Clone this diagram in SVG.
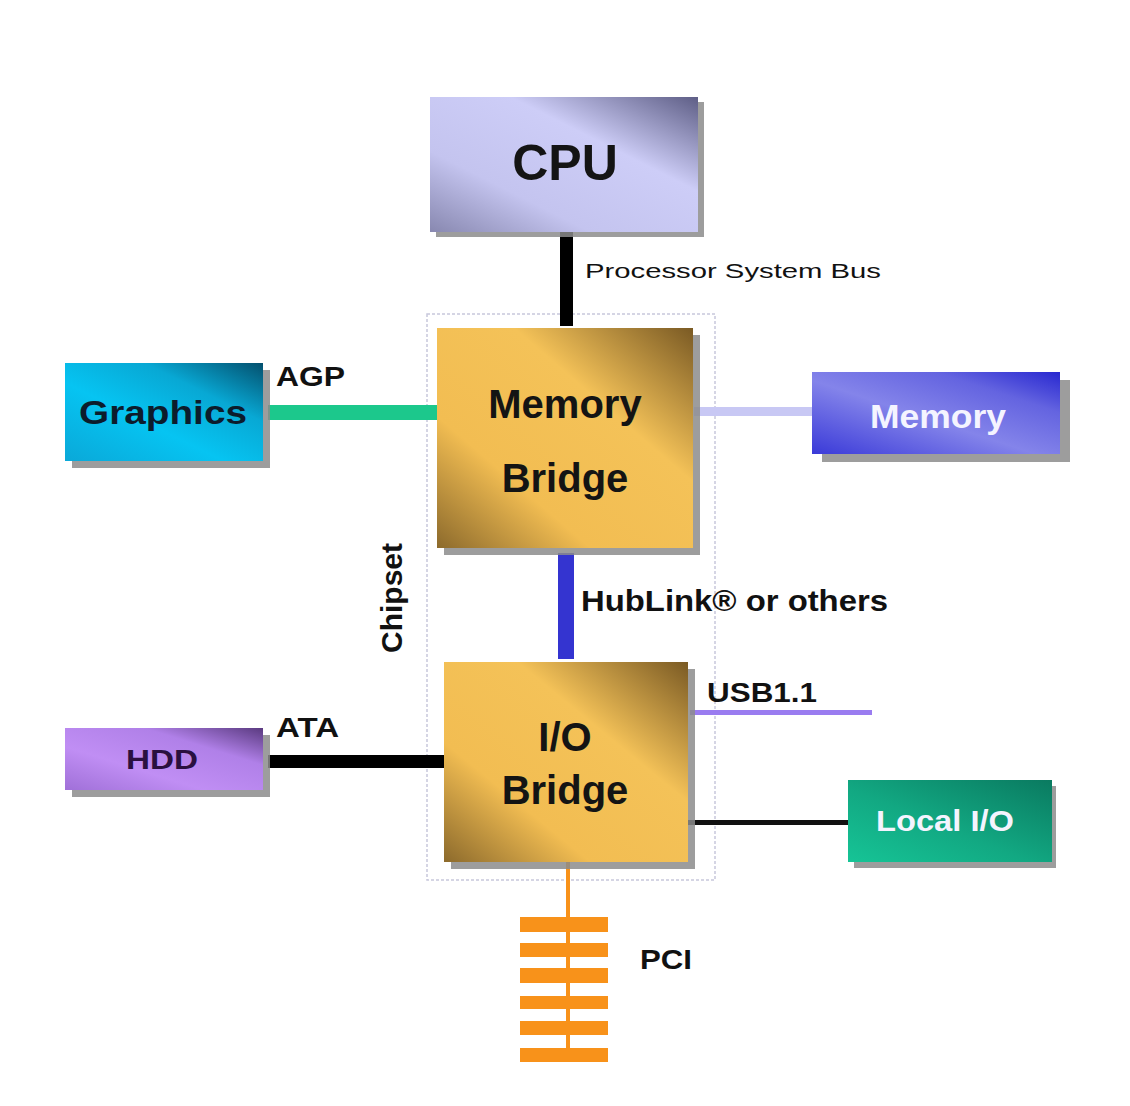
<svg xmlns="http://www.w3.org/2000/svg" width="1130" height="1106" viewBox="0 0 1130 1106">
<style>
.lbl{font-family:"Liberation Sans",Arial,sans-serif;font-weight:bold;fill:#111}
.big{font-family:"Liberation Sans",Arial,sans-serif;font-weight:bold;fill:#141414;text-anchor:middle}
.wht{font-family:"Liberation Sans",Arial,sans-serif;font-weight:bold;fill:#f4f4ff;text-anchor:middle}
.shadow{fill:#8c8c8c;opacity:0.85}
</style>
<defs>
<linearGradient id="gCpu" x1="0" y1="1" x2="1" y2="0">
<stop offset="0" stop-color="#8888b0"/><stop offset="0.3" stop-color="#c4c4ef"/><stop offset="0.65" stop-color="#cdcdf7"/><stop offset="1" stop-color="#5e5e86"/>
</linearGradient>
<linearGradient id="gGold" x1="0" y1="1" x2="1" y2="0">
<stop offset="0" stop-color="#8c6a2c"/><stop offset="0.3" stop-color="#f2bd52"/><stop offset="0.65" stop-color="#f4c258"/><stop offset="1" stop-color="#7a5a24"/>
</linearGradient>
<linearGradient id="gGfx" x1="0" y1="1" x2="1" y2="0">
<stop offset="0" stop-color="#0aa8d8"/><stop offset="0.4" stop-color="#06c4f2"/><stop offset="0.7" stop-color="#08a8d4"/><stop offset="1" stop-color="#04506e"/>
</linearGradient>
<linearGradient id="gMem" x1="0" y1="1" x2="1" y2="0">
<stop offset="0" stop-color="#3a3ad8"/><stop offset="0.45" stop-color="#8484ea"/><stop offset="0.75" stop-color="#6464e0"/><stop offset="1" stop-color="#2828d0"/>
</linearGradient>
<linearGradient id="gHdd" x1="0" y1="1" x2="1" y2="0">
<stop offset="0" stop-color="#a070d8"/><stop offset="0.35" stop-color="#c08ef4"/><stop offset="0.7" stop-color="#b080e8"/><stop offset="1" stop-color="#5a3a80"/>
</linearGradient>
<linearGradient id="gLio" x1="0" y1="1" x2="1" y2="0">
<stop offset="0" stop-color="#16c496"/><stop offset="0.45" stop-color="#12a882"/><stop offset="1" stop-color="#0a7a60"/>
</linearGradient>
</defs>
<rect width="1130" height="1106" fill="#ffffff"/>

<g id="chipset">
<rect x="427" y="314" width="288" height="566" fill="none" stroke="#c8c8dc" stroke-width="1.5" stroke-dasharray="3 2"/>
<text class="lbl" font-size="30" transform="translate(402,598) rotate(-90)" text-anchor="middle">Chipset</text>
</g>

<g id="connectors">
<rect x="560" y="232" width="13" height="94" fill="#000"/>
<rect x="268" y="405" width="170" height="15" fill="#1cc88c"/>
<rect x="694" y="407" width="120" height="9" fill="#c8c8f4"/>
<rect x="558" y="553" width="16" height="106" fill="#3434d0"/>
<rect x="690" y="710" width="182" height="5" fill="#9a7cf0"/>
<rect x="268" y="755" width="178" height="13" fill="#000"/>
<rect x="688" y="820" width="162" height="5" fill="#111"/>
<rect x="566" y="862" width="4" height="198" fill="#f8921a"/>
<g fill="#f8921a">
<rect x="520" y="917" width="88" height="15"/>
<rect x="520" y="943" width="88" height="14"/>
<rect x="520" y="968" width="88" height="15"/>
<rect x="520" y="996" width="88" height="13"/>
<rect x="520" y="1021" width="88" height="14"/>
<rect x="520" y="1048" width="88" height="14"/>
</g>
<text class="lbl" font-size="21" font-weight="normal" x="585" y="278" style="font-weight:normal" textLength="296" lengthAdjust="spacingAndGlyphs">Processor System Bus</text>
<text class="lbl" font-size="27" x="276" y="386" textLength="69" lengthAdjust="spacingAndGlyphs">AGP</text>
<text class="lbl" font-size="30" x="581" y="611" textLength="307" lengthAdjust="spacingAndGlyphs">HubLink® or others</text>
<text class="lbl" font-size="27" x="707" y="702" textLength="110" lengthAdjust="spacingAndGlyphs">USB1.1</text>
<text class="lbl" font-size="27" x="276" y="737" textLength="63" lengthAdjust="spacingAndGlyphs">ATA</text>
<text class="lbl" font-size="28" x="640" y="969" textLength="52" lengthAdjust="spacingAndGlyphs">PCI</text>
</g>

<g id="cpu">
<rect class="shadow" x="436" y="102" width="268" height="135"/>
<rect x="430" y="97" width="268" height="135" fill="url(#gCpu)"/>
<text class="big" font-size="50" x="565" y="180">CPU</text>
</g>

<g id="memory-bridge">
<rect class="shadow" x="444" y="335" width="256" height="220"/>
<rect x="437" y="328" width="256" height="220" fill="url(#gGold)"/>
<text class="big" font-size="40" x="565" y="418">Memory</text>
<text class="big" font-size="40" x="565" y="492">Bridge</text>
</g>

<g id="graphics">
<rect class="shadow" x="72" y="370" width="198" height="98"/>
<rect x="65" y="363" width="198" height="98" fill="url(#gGfx)"/>
<text class="big" font-size="33" x="163" y="424" fill="#0a1a2a" style="fill:#0c1c2c" textLength="168" lengthAdjust="spacingAndGlyphs">Graphics</text>
</g>

<g id="memory">
<rect class="shadow" x="822" y="380" width="248" height="82"/>
<rect x="812" y="372" width="248" height="82" fill="url(#gMem)"/>
<text class="wht" font-size="34" x="938" y="428" textLength="136" lengthAdjust="spacingAndGlyphs">Memory</text>
</g>

<g id="io-bridge">
<rect class="shadow" x="451" y="669" width="244" height="200"/>
<rect x="444" y="662" width="244" height="200" fill="url(#gGold)"/>
<text class="big" font-size="40" x="565" y="751">I/O</text>
<text class="big" font-size="40" x="565" y="804">Bridge</text>
</g>

<g id="hdd">
<rect class="shadow" x="72" y="735" width="198" height="62"/>
<rect x="65" y="728" width="198" height="62" fill="url(#gHdd)"/>
<text class="big" font-size="28" x="162" y="769" style="fill:#2a1040" textLength="72" lengthAdjust="spacingAndGlyphs">HDD</text>
</g>

<g id="local-io">
<rect class="shadow" x="854" y="786" width="202" height="82"/>
<rect x="848" y="780" width="204" height="82" fill="url(#gLio)"/>
<text class="wht" font-size="30" x="945" y="831" textLength="138" lengthAdjust="spacingAndGlyphs">Local I/O</text>
</g>
</svg>
